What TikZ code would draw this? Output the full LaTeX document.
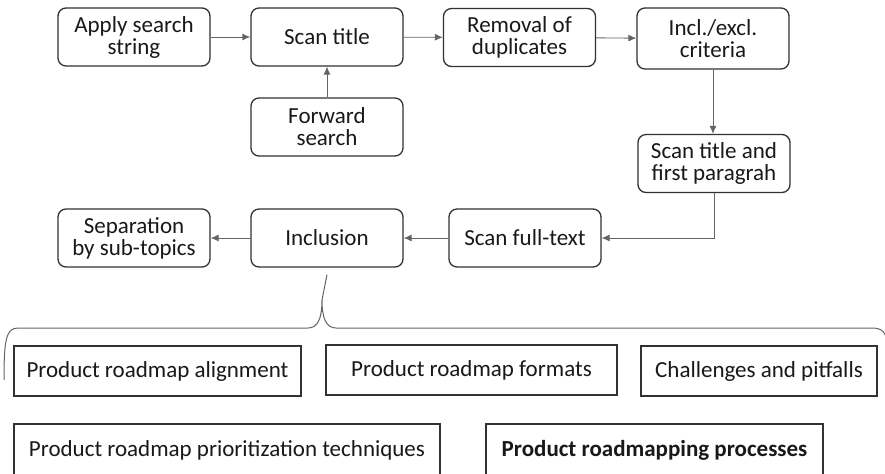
\documentclass[tikz,border=0pt]{standalone}
\usepackage{fontspec}
\setmainfont{Carlito}
\usepackage{tikz}
\usetikzlibrary{arrows.meta,positioning}
\definecolor{bxline}{RGB}{50,50,50}
\definecolor{arline}{RGB}{100,100,100}
\tikzset{
  stepbox/.style={rectangle, rounded corners=4pt, draw=bxline, line width=0.65pt, align=center, minimum width=76pt, minimum height=29pt, inner sep=1pt, font=\fontsize{11.5}{11}\selectfont, text=black!90},
  topicbox/.style={rectangle, draw=bxline, line width=0.65pt, align=center, minimum height=25pt, inner sep=1pt, font=\fontsize{11.5}{12}\selectfont, text=black!90},
  arrow/.style={-{Latex[length=4pt,width=3.5pt]}, line width=0.45pt, draw=arline},
  brace/.style={line width=0.5pt, draw=arline}
}
\begin{document}
\begin{tikzpicture}[x=0.5pt,y=-0.5pt]
\clip (0,0) rectangle (885,473);
\fill[white] (0,0) rectangle (885,473);
% search steps
\node[stepbox] (apply) at (134,37) {Apply search\\string};
\node[stepbox] (scan) at (327,37) {Scan title};
\node[stepbox] (removal) at (519.5,37.5) {Removal of\\duplicates};
\node[stepbox, minimum height=30.5pt] (crit) at (713,38.5) {Incl./excl.\\criteria};
\node[stepbox] (forward) at (327,127) {Forward\\search};
\node[stepbox] (scanfirst) at (714,163.5) {Scan title and\\first paragrah};
\node[stepbox] (fulltext) at (525,238) {Scan full-text};
\node[stepbox] (incl) at (327,238) {Inclusion};
\node[stepbox] (sep) at (134,238) {Separation\\by sub-topics};
\draw[arrow] (apply) -- (scan);
\draw[arrow] (scan) -- (removal);
\draw[arrow] (removal) -- (crit);
\draw[arrow] (forward) -- (scan);
\draw[arrow] (crit.south) -- (crit.south |- scanfirst.north);
\draw[arrow] (scanfirst.south) |- (fulltext.east);
\draw[arrow] (fulltext) -- (incl);
\draw[arrow] (incl) -- (sep);
% brace
\coordinate (tip) at ([yshift=-3.5pt]incl.south);
\draw[brace] (4,380) .. controls (4,340) and (6,328) .. (18,328) -- (308,328)
  .. controls (318,328) and (322,318) .. (322,300) -- (tip)
  (322,300) .. controls (322,318) and (326,328) .. (336,328) -- (872,328)
  .. controls (882,328) and (886,332) .. (888,345);
% sub-topics
\node[topicbox, minimum width=143.5pt] (align) at (157.5,371) {Product roadmap alignment};
\node[topicbox, minimum width=145.5pt] (formats) at (471.5,370) {Product roadmap formats};
\node[topicbox, minimum width=118pt] (pitfalls) at (759,371) {Challenges and pitfalls};
\node[topicbox, minimum width=213pt, minimum height=26pt] (prio) at (227,450) {Product roadmap prioritization techniques};
\node[topicbox, minimum width=168.5pt, minimum height=26pt, font=\fontsize{11.5}{12}\selectfont\bfseries] (proc) at (654.5,450) {Product roadmapping processes};
\end{tikzpicture}
\end{document}
